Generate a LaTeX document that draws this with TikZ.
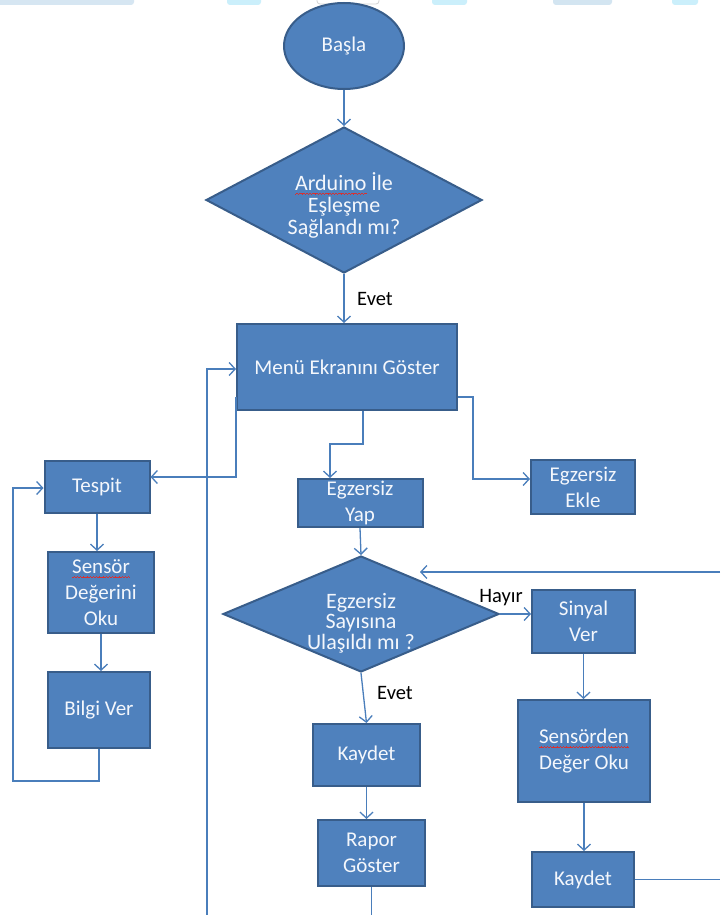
\documentclass[tikz,border=0pt]{standalone}
\usepackage{fontspec}
\setmainfont{Carlito}
\usetikzlibrary{shapes.geometric,arrows.meta,calc}
\definecolor{boxfill}{HTML}{4F81BD}
\definecolor{boxline}{HTML}{385D8A}
\definecolor{boxtext}{HTML}{F4F7FC}
\definecolor{conncol}{HTML}{4A7EBB}
\definecolor{wavered}{HTML}{D83030}
\definecolor{wmA}{HTML}{D6E6F2}
\definecolor{wmB}{HTML}{CBEFFB}
\definecolor{wmC}{HTML}{D3E5F1}
\newcommand\wavecell{\hbox{\rule[0pt]{0.8pt}{0.7pt}\rule[0.6pt]{0.8pt}{0.7pt}\rule[1.2pt]{0.8pt}{0.7pt}\rule[0.6pt]{0.8pt}{0.7pt}}}
\newcommand\redwave[1]{\setbox0\hbox{#1}\leavevmode\rlap{\raisebox{-4.5pt}[0pt][0pt]{\hbox to\wd0{\color{wavered}\xleaders\wavecell\hfill}}}\box0\relax}
\newcommand\dtext[2]{\raisebox{#1}[0pt][0pt]{\begin{tabular}[t]{@{}c@{}}#2\end{tabular}}}
\begin{document}
\begin{tikzpicture}[x=1pt,y=-1pt,
  box/.style={rectangle, fill=boxfill, draw=boxline, line width=2pt, text=boxtext,
    align=center, inner sep=1pt, font=\fontsize{21}{26}\selectfont},
  startbox/.style={ellipse, fill=boxfill, draw=boxline, line width=2pt, text=boxtext,
    inner sep=0pt, minimum width=120pt, minimum height=86pt, font=\fontsize{21}{26}\selectfont},
  dia/.style={diamond, fill=boxfill, draw=boxline, line width=2pt, text=boxtext,
    inner sep=0pt, shape aspect=2},
  conn/.style={draw=conncol, line width=1.3pt},
  arr/.style={conn, -{Straight Barb[length=6pt,width=13pt,line width=1.3pt]}},
  lbl/.style={text=black, inner sep=0pt, font=\fontsize{20.5}{24}\selectfont}
]
\useasboundingbox (0,0) rectangle (720,915);
\fill[white] (0,0) rectangle (720,915);
% faint strip at the top edge
\fill[wmA, rounded corners=3pt] (-6,-6) rectangle (134,5);
\fill[wmB, rounded corners=3pt] (227,-6) rectangle (261,5);
\draw[gray!35, fill=white, line width=0.8pt, rounded corners=3pt] (317,-6) rectangle (379,4);
\fill[wmB, rounded corners=3pt] (432,-6) rectangle (467,5);
\fill[wmC, rounded corners=3pt] (553,-6) rectangle (612,5);
\fill[wmB, rounded corners=3pt] (672,-6) rectangle (698,5);

% nodes
\node[startbox] (basla) at (344,46) {Başla};
\node[dia, minimum width=276pt, minimum height=146pt, font=\fontsize{22}{22}\selectfont] (d1) at (344,200)
  {\dtext{10pt}{\redwave{Arduino} İle\\Eşleşme\\Sağlandı mı?}};
\node[box, minimum width=220pt, minimum height=86pt] (menu) at (347,367) {Menü Ekranını Göster};
\node[box, minimum width=105pt, minimum height=52pt] (tespit) at (97,487) {Tespit};
\node[box, minimum width=106pt, minimum height=81pt] (sensor) at (101,592.5) {\redwave{Sensör}\\Değerini\\Oku};
\node[box, minimum width=102pt, minimum height=76pt] (bilgi) at (99,710) {Bilgi Ver};
\node[box, minimum width=125pt, minimum height=48pt] (yap) at (360,503) {Egzersiz\\Yap};
\node[box, minimum width=104pt, minimum height=54pt] (ekle) at (583,487) {Egzersiz\\Ekle};
\node[dia, minimum width=276pt, minimum height=116pt, font=\fontsize{22}{20.5}\selectfont] (d2) at (361,614)
  {\dtext{6pt}{Egzersiz\\Sayısına\\Ulaşıldı mı ?}};
\node[box, minimum width=103pt, minimum height=63pt] (sinyal) at (583.5,621.5) {Sinyal\\Ver};
\node[box, minimum width=107pt, minimum height=62pt] (kaydet1) at (366.5,755) {Kaydet};
\node[box, minimum width=107pt, minimum height=66pt] (rapor) at (371.5,853) {Rapor\\Göster};
\node[box, minimum width=132pt, minimum height=102pt] (sensorden) at (584,751) {\redwave{Sensörden}\\Değer Oku};
\node[box, minimum width=102pt, minimum height=55pt] (kaydet2) at (583,879.5) {Kaydet};

% labels
\node[lbl] (evet1) at (375,299) {Evet};
\node[lbl] (hayir) at (501,598) {Hayır};
\node[lbl] (evet2) at (395,693) {Evet};

% free ends
\coordinate (loopend) at (207,915);
\coordinate (rapend) at (372,915);
\coordinate (lb) at (13,781);
\coordinate (retin) at (720,572);
\coordinate (rettip) at (420,572);
\coordinate (k2end) at (720,880);

% connectors
\draw[arr] (basla.south) -- (d1.north);
\draw[arr] (d1.south) -- (d1.south |- menu.north);
\draw[arr] ([yshift=14pt]menu.south west) |- ([yshift=10pt]tespit.east);
\draw[arr] (loopend) |- ([yshift=-2pt]menu.west);
\draw[conn] (rapor.south) -- (rapor.south |- rapend);
\draw[arr] ([xshift=16pt]menu.south) -- ++(0,33) -| ([xshift=-30pt]yap.north);
\draw[arr] ([yshift=-30pt]menu.east) -- ++(15,0) |- ([yshift=8pt]ekle.west);
\draw[arr] (yap.south) -- (d2.north);
\draw[arr] (tespit.south) -- (tespit.south |- sensor.north);
\draw[arr] (sensor.south) -- (sensor.south |- bilgi.north);
\draw[arr] (bilgi.south) |- (lb) |- ([yshift=-1pt]tespit.west);
\draw[arr] (d2.east) -- (d2.east -| sinyal.west);
\draw[arr] (retin) -- (rettip);
\draw[arr] (d2.south) -- (kaydet1.north);
\draw[arr] (kaydet1.south) -- (kaydet1.south |- rapor.north);
\draw[arr] (sinyal.south) -- (sinyal.south |- sensorden.north);
\draw[arr] (sensorden.south) -- (sensorden.south |- kaydet2.north);
\draw[conn] (kaydet2.east) -- (kaydet2.east -| k2end);
\end{tikzpicture}
\end{document}
